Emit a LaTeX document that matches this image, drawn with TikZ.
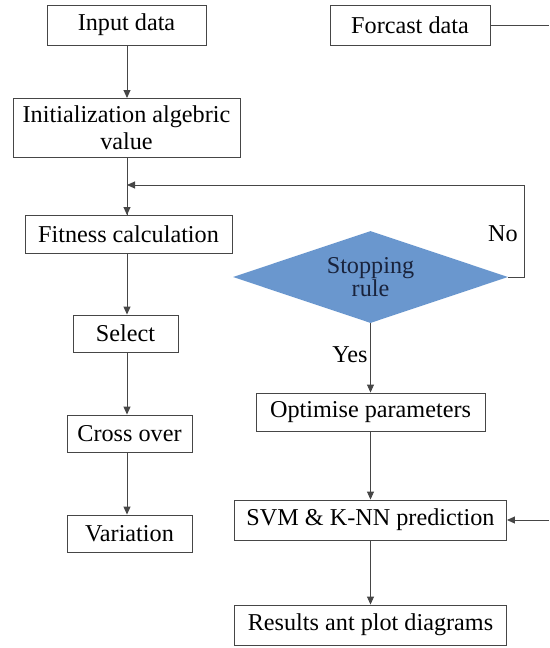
\documentclass[tikz,border=0pt]{standalone}
\usepackage{fontspec}
\setmainfont{LiberationSerif}[Extension=.ttf, UprightFont=*-Regular, BoldFont=*-Bold]
\usetikzlibrary{shapes.geometric,arrows.meta}
\definecolor{linegray}{RGB}{70,70,70}
\definecolor{diafill}{RGB}{106,151,206}
\definecolor{diatext}{RGB}{25,35,60}
\tikzset{
  box/.style={draw=linegray, line width=0.9pt, fill=white, inner sep=0pt,
    align=center, font=\fontsize{24.2}{26.5}\selectfont},
  flow/.style={draw=linegray, line width=0.9pt, -{Triangle[length=8pt,width=7pt]}},
  plain/.style={draw=linegray, line width=0.9pt},
  lbl/.style={font=\fontsize{24.2}{26.5}\selectfont, inner sep=0pt}
}
\begin{document}
\begin{tikzpicture}[x=1pt,y=-1pt]
\useasboundingbox (0,0) rectangle (549,648);

% left column: genetic optimisation steps
\node[box, minimum width=159pt, minimum height=40pt] (in) at (126.5,25) {Input data};
\node[box, minimum width=227pt, minimum height=59pt] (init) at (126.5,127.5) {Initialization algebric\\value};
\node[box, minimum width=207pt, minimum height=38pt] (fit) at (128.5,234) {Fitness calculation};
\node[box, minimum width=105pt, minimum height=37pt] (sel) at (125.5,333.5) {Select};
\node[box, minimum width=125pt, minimum height=37pt] (cro) at (129.5,433.5) {Cross over};
\node[box, minimum width=125pt, minimum height=37pt] (var) at (129.5,533.5) {Variation};

% right column: decision and prediction
\node[box, minimum width=160pt, minimum height=40pt] (fc) at (410,25) {Forcast data};
\node[diamond, fill=diafill, aspect=3, inner sep=0pt, minimum width=275pt, minimum height=92pt,
  align=center, text=diatext, font=\fontsize{24.2}{23.5}\selectfont] (dia) at (370.5,277) {Stopping\\rule};
\node[box, minimum width=229pt, minimum height=38pt] (opt) at (370.5,412) {Optimise parameters};
\node[box, minimum width=272pt, minimum height=40pt] (svm) at (370.5,520) {SVM \& K-NN prediction};
\node[box, minimum width=272pt, minimum height=40pt] (res) at (370.5,625) {Results ant plot diagrams};

% helper points for the loop and the side connectors
\coordinate (loopin) at (127,185);
\coordinate (loopr) at (524,185);
\coordinate (loopd) at (524,277);
\coordinate (fcend) at (549,25);
\coordinate (svmin) at (549,520);

% connectors of the left column
\draw[flow] (in.south -| 127,0) -- (127,98);
\draw[plain] (127,157) -- (127,215);
\draw[flow] (127,190) -- (127,215);
\draw[flow] (127,253) -- (sel.north -| 127,0);
\draw[flow] (sel.south -| 127,0) -- (cro.north -| 127,0);
\draw[flow] (cro.south -| 127,0) -- (var.north -| 127,0);

% loop back from the decision
\draw[flow] (dia.east) -- (loopd) -- (loopr) -- (loopin);
\node[lbl, anchor=center] (no) at (503,234) {No};

% connectors of the right column
\draw[flow] (dia.south) -- (opt.north);
\node[lbl, anchor=center] (yes) at (350,355) {Yes};
\draw[flow] (opt.south) -- (svm.north);
\draw[flow] (svm.south) -- (res.north);
\draw[plain] (fc.east) -- (fcend);
\draw[flow] (svmin) -- (svm.east);
\end{tikzpicture}
\end{document}
